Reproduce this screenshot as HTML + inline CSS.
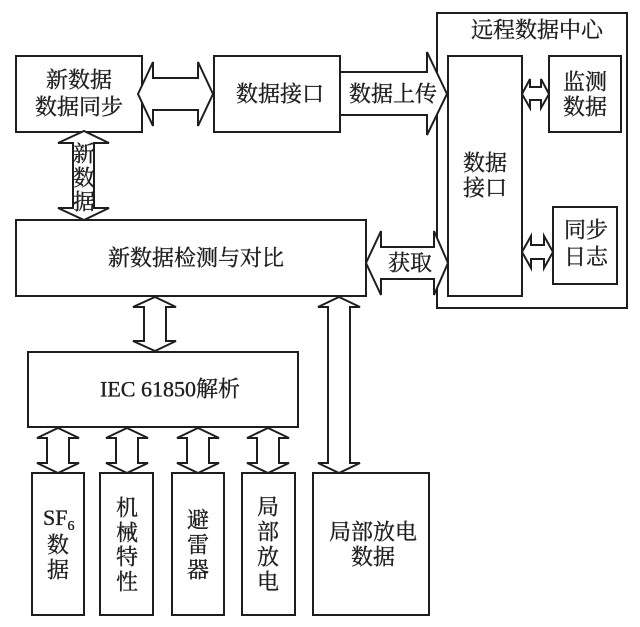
<!DOCTYPE html>
<html>
<head>
<meta charset="utf-8">
<style>
html,body{margin:0;padding:0;background:#fff;}
svg{display:block;}
text{font-family:"Liberation Serif","Noto Serif CJK SC",serif;fill:#1e1e1e;font-size:22px;stroke:#1e1e1e;stroke-width:0.35px;}
</style>
</head>
<body>
<svg width="640" height="627" viewBox="0 0 640 627" xmlns="http://www.w3.org/2000/svg">
<g fill="#fff" stroke="#1e1e1e" stroke-width="2" stroke-linejoin="miter">
  <rect x="437" y="13" width="190" height="295"/>
  <rect x="448" y="56" width="74" height="240"/>
  <rect x="549" y="56" width="72" height="76"/>
  <rect x="553" y="207" width="64" height="77"/>

  <rect x="16" y="56" width="126" height="76"/>
  <rect x="214" y="56" width="126" height="76"/>
  <rect x="16" y="220" width="350" height="76"/>
  <rect x="28" y="352" width="270" height="75"/>
  <rect x="32" y="473" width="52" height="142"/>
  <rect x="100" y="473" width="53" height="142"/>
  <rect x="172" y="473" width="52" height="142"/>
  <rect x="242" y="473" width="53" height="142"/>
  <rect x="313" y="473" width="116" height="142"/>

  <polygon points="138,94 153,62 153,78 198,78 198,62 213,94 198,126 198,110 153,110 153,126"/>
  <polygon points="340,72 427,72 427,52 447,94 427,135 427,115 340,115"/>
  <polygon points="84,131 109,143 94,143 94,208 109,208 84,220 58,208 73,208 73,143 58,143"/>
  <polygon points="366,263 381,231 381,247 434,247 434,231 448,263 434,295 434,279 381,279 381,295"/>
  <polygon points="522,94 530,79 530,87 541,87 541,79 549,94 541,108 541,100 530,100 530,108"/>
  <polygon points="522,252 531,236 531,245 544,245 544,236 553,252 544,268 544,259 531,259 531,268"/>
  <polygon points="155,297 176,307 166,307 166,341 176,341 155,351 133,341 144,341 144,307 133,307"/>
  <polygon points="339,297 360,307 350,307 350,463 360,463 339,473 318,463 328,463 328,307 318,307"/>
  <polygon points="58,428 79,438 69,438 69,463 79,463 58,473 37,463 47,463 47,438 37,438"/>
  <polygon points="127,428 148,438 138,438 138,463 148,463 127,473 106,463 116,463 116,438 106,438"/>
  <polygon points="198,428 219,438 209,438 209,463 219,463 198,473 177,463 187,463 187,438 177,438"/>
  <polygon points="268,428 289,438 279,438 279,463 289,463 268,473 247,463 257,463 257,438 247,438"/>
</g>

<g text-anchor="middle" dominant-baseline="central">
  <text x="537" y="30">远程数据中心</text>
  <text x="79" y="80">新数据</text>
  <text x="79" y="107">数据同步</text>
  <text x="280" y="94">数据接口</text>
  <text x="393" y="94">数据上传</text>
  <text x="84" y="154">新</text>
  <text x="84" y="178">数</text>
  <text x="84" y="202">据</text>
  <text x="196" y="258">新数据检测与对比</text>
  <text x="410" y="263">获取</text>
  <text x="585" y="82">监测</text>
  <text x="585" y="107">数据</text>
  <text x="485" y="163">数据</text>
  <text x="485" y="188">接口</text>
  <text x="586" y="230">同步</text>
  <text x="586" y="257">日志</text>
  <text x="170" y="389">IEC 61850解析</text>

  <text x="58" y="545">数</text>
  <text x="58" y="570">据</text>

  <text x="127" y="508">机</text>
  <text x="127" y="533">械</text>
  <text x="127" y="557">特</text>
  <text x="127" y="582">性</text>

  <text x="198" y="520">避</text>
  <text x="198" y="545">雷</text>
  <text x="198" y="570">器</text>

  <text x="268" y="507">局</text>
  <text x="268" y="532">部</text>
  <text x="268" y="557">放</text>
  <text x="268" y="582">电</text>

  <text x="373" y="532">局部放电</text>
  <text x="373" y="557">数据</text>
</g>
<text x="43" y="525" font-size="22">SF<tspan font-size="14" dy="5">6</tspan></text>
</svg>
</body>
</html>
